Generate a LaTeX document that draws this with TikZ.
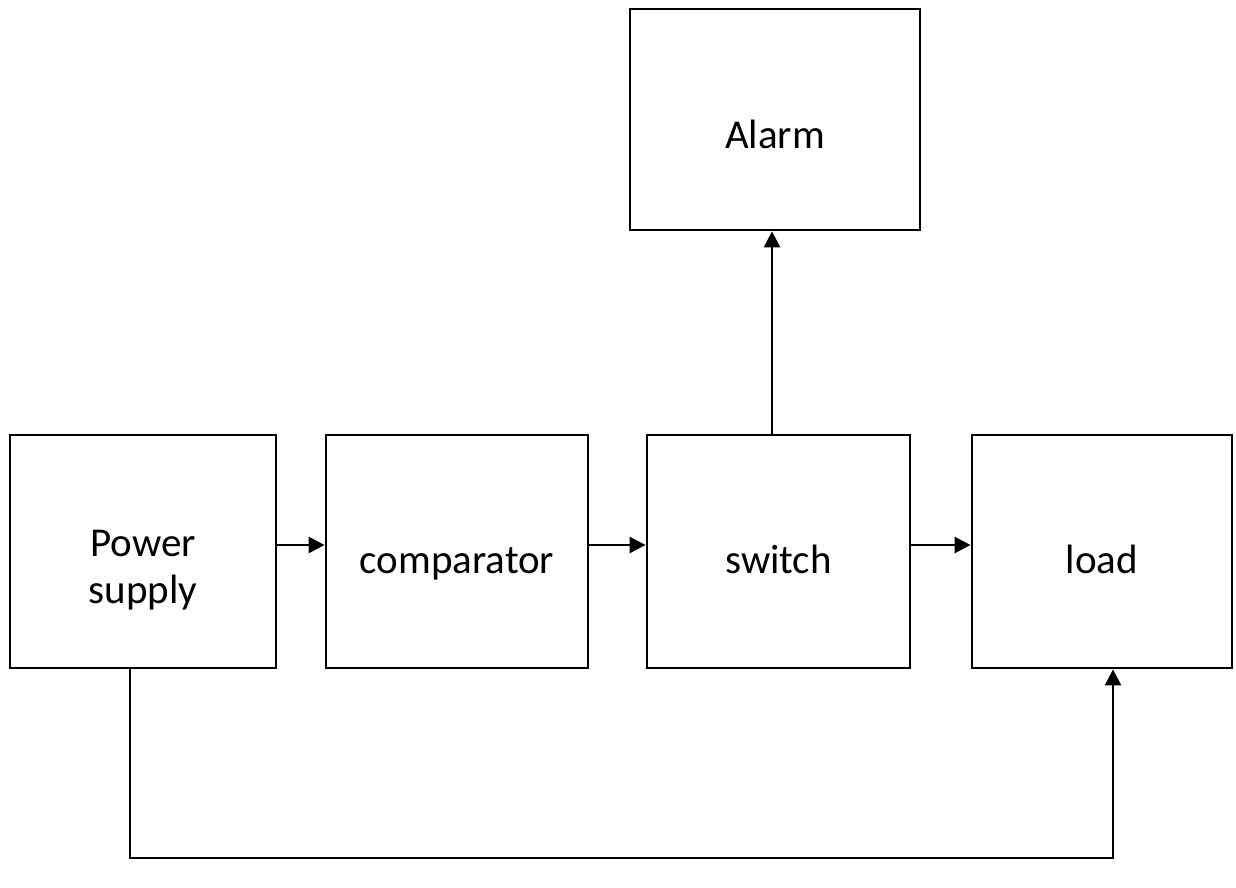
\documentclass[tikz,border=0pt]{standalone}
\usepackage{fontspec}
\setmainfont{Carlito}
\usetikzlibrary{arrows.meta}
\begin{document}
\begin{tikzpicture}[x=1pt,y=-1pt,
  blk/.style={draw=black,line width=2.8pt,rectangle,inner sep=0pt},
  txt/.style={font=\fontsize{41}{47}\selectfont,align=center,inner sep=0pt},
  conn/.style={line width=2.6pt,-{Triangle[length=16pt,width=16pt]}}]
\useasboundingbox (0,0) rectangle (1236,888);
\node[blk,minimum width=266pt,minimum height=233pt] (ps) at (143,551.5) {};
\node[blk,minimum width=262pt,minimum height=233pt] (cmp) at (457,551.5) {};
\node[blk,minimum width=263pt,minimum height=233pt] (sw) at (778.5,551.5) {};
\node[blk,minimum width=260pt,minimum height=233pt] (ld) at (1102,551.5) {};
\node[blk,minimum width=290pt,minimum height=221pt] (al) at (775,119.5) {};
\node[txt] (tps) at (143,570) {Power\\supply};
\node[txt,anchor=base] (tcmp) at (457,573) {comparator};
\node[txt,anchor=base] (tsw) at (778.5,573) {switch};
\node[txt,anchor=base] (tld) at (1102,573) {load};
\node[txt,anchor=base] (tal) at (775,148) {Alarm};
\draw[conn] (ps.east |- 0,545) -- (cmp.west |- 0,545);
\draw[conn] (cmp.east |- 0,545) -- (sw.west |- 0,545);
\draw[conn] (sw.east |- 0,545) -- (ld.west |- 0,545);
\draw[conn] (sw.north -| 772,0) -- (al.south -| 772,0);
\coordinate (c1) at (130,858);
\coordinate (c2) at (1113,858);
\draw[conn] (ps.south -| c1) -- (c1) -- (c2) -- (ld.south -| c2);
\end{tikzpicture}
\end{document}
